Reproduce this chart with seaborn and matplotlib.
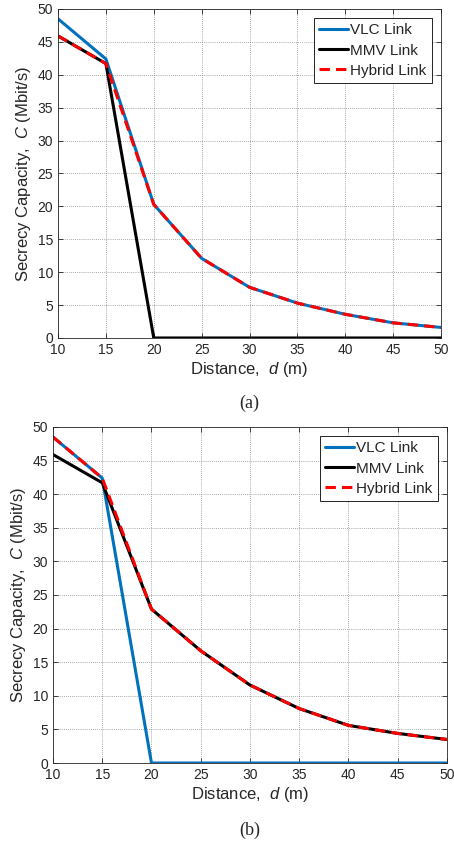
import matplotlib
matplotlib.use('Agg')
import matplotlib.pyplot as plt
import seaborn as sns
import pandas as pd

# Data
distance = [10, 15, 20, 25, 30, 35, 40, 45, 50]

# panel (a)
vlc_a = [48.5, 42.4, 20.3, 12.1, 7.7, 5.3, 3.6, 2.3, 1.6]
mmv_a = [45.9, 41.7, 0, 0, 0, 0, 0, 0, 0]
hybrid_a = [45.9, 41.7, 20.3, 12.1, 7.7, 5.3, 3.6, 2.3, 1.6]

# panel (b)
vlc_b = [48.5, 42.4, 0, 0, 0, 0, 0, 0, 0]
mmv_b = [45.9, 41.7, 22.9, 16.7, 11.6, 8.1, 5.6, 4.4, 3.5]
hybrid_b = [48.5, 42.4, 22.9, 16.7, 11.6, 8.1, 5.6, 4.4, 3.5]

series_names = ['VLC Link', 'MMV Link', 'Hybrid Link']
series_colors = ['#0072BD', '#000000', '#FF0000']

sns.set_style('ticks')
plt.rcParams['font.family'] = ['Liberation Sans', 'DejaVu Sans']
plt.rcParams['mathtext.fontset'] = 'custom'
plt.rcParams['mathtext.it'] = 'Liberation Sans:italic'
plt.rcParams['mathtext.rm'] = 'Liberation Sans'


def draw_panel(ax, vlc, mmv, hybrid, tag):
    df = pd.DataFrame({'d': distance, 'VLC Link': vlc,
                       'MMV Link': mmv, 'Hybrid Link': hybrid})
    for name, col in zip(series_names, series_colors):
        ls = '--' if name == 'Hybrid Link' else '-'
        sns.lineplot(data=df, x='d', y=name, ax=ax, color=col, lw=2.2,
                     linestyle=ls, label=name)
    for line in ax.get_lines():
        if line.get_linestyle() == '--':
            line.set_dashes((3.4, 2.0))
    ax.set_xlim(10, 50)
    ax.set_ylim(0, 50)
    ax.set_xticks(range(10, 51, 5))
    ax.set_yticks(range(0, 51, 5))
    ax.grid(True, linestyle=(0, (1, 1.5)), linewidth=0.6, color='#707070', alpha=0.8)
    for s in ax.spines.values():
        s.set_visible(True)
        s.set_linewidth(0.6)
        s.set_color('#262626')
    ax.tick_params(direction='in', length=3.5, width=0.6, top=True, right=True,
                   labelsize=10, colors='#262626')
    ax.set_xlabel('Distance,  $d$ (m)', fontsize=12, color='#262626', labelpad=2)
    ax.set_ylabel('Secrecy Capacity,  $C$ (Mbit/s)', fontsize=12, color='#262626', labelpad=3)
    leg = ax.legend(loc='upper right', fontsize=11, frameon=True, fancybox=False,
                    edgecolor='black', framealpha=1, handlelength=1.9,
                    handletextpad=0.15, borderpad=0.35, labelspacing=0.4,
                    borderaxespad=0.6)
    leg.get_frame().set_linewidth(0.6)
    ax.text(0.5, -0.2, tag, transform=ax.transAxes, ha='center', va='center',
            fontsize=13, family='Liberation Serif')


fig = plt.figure(figsize=(4.54, 8.46), dpi=100)
ax1 = fig.add_axes([0.1278, 0.6005, 0.8436, 0.3889])
ax2 = fig.add_axes([0.1167, 0.0981, 0.8678, 0.3972])

draw_panel(ax1, vlc_a, mmv_a, hybrid_a, '(a)')
draw_panel(ax2, vlc_b, mmv_b, hybrid_b, '(b)')

fig.savefig('out.png', dpi=100)
